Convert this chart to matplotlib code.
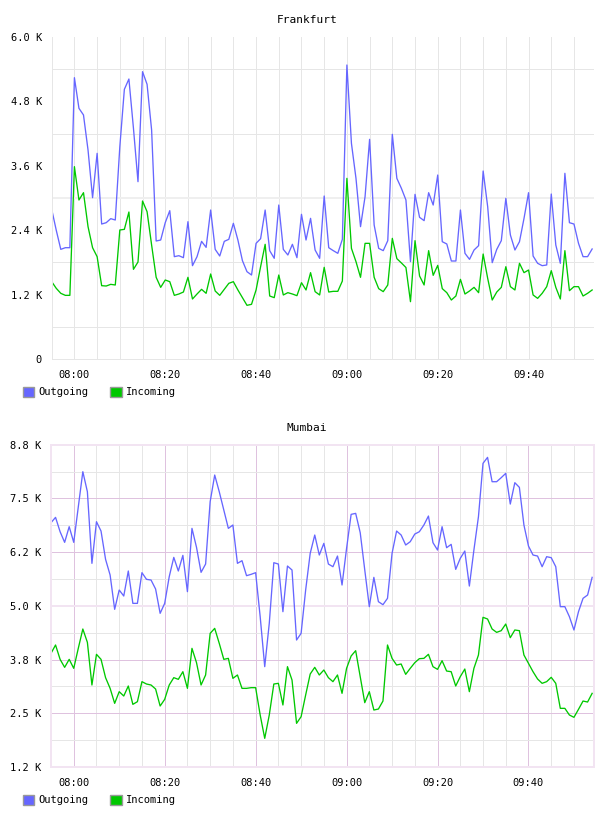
import numpy as np
import matplotlib
matplotlib.use("Agg")
import matplotlib.pyplot as plt
from matplotlib.patches import Patch

# one sample per minute, 07:55 .. 09:54 (minutes since midnight)
minutes = np.arange(475, 595)

tick_minutes = [480, 500, 520, 540, 560, 580]
tick_labels = ["08:00", "08:20", "08:40", "09:00", "09:20", "09:40"]

frankfurt_out = [
    2789, 2400, 2043, 2074, 2074, 5242, 4671, 4547, 3894, 3006,
    3832, 2515, 2540, 2615, 2590, 3956, 5025, 5217, 4300, 3304,
    5354, 5118, 4267, 2199, 2217, 2540, 2764, 1907, 1925, 1888,
    2559, 1739, 1907, 2192, 2080, 2776, 2043, 1919, 2192, 2230,
    2528, 2217, 1832, 1627, 1565, 2155, 2242, 2776, 2019, 1876,
    2869, 2043, 1938, 2137, 1888, 2696, 2217, 2621, 2031, 1876,
    3037, 2074, 2019, 1969, 2230, 5478, 4018, 3366, 2466, 3025,
    4093, 2497, 2062, 2019, 2205, 4186, 3366, 3180, 2963, 1814,
    3068, 2640, 2578, 3099, 2869, 3428, 2186, 2143, 1826, 1826,
    2776, 1969, 1857, 2031, 2112, 3503, 2838, 1795, 2043, 2205,
    2994, 2310, 2031, 2186, 2621, 3099, 1919, 1783, 1739, 1752,
    3074, 2124, 1783, 3460, 2540, 2515, 2155, 1907, 1907, 2050,
]
frankfurt_in = [
    1441, 1317, 1224, 1186, 1186, 3584, 2963, 3099, 2466, 2074,
    1907, 1366, 1360, 1391, 1379, 2404, 2416, 2739, 1671, 1807,
    2944, 2745, 2124, 1522, 1335, 1472, 1441, 1186, 1211, 1248,
    1522, 1118, 1211, 1298, 1224, 1584, 1267, 1186, 1298, 1410,
    1441, 1286, 1143, 1000, 1019, 1286, 1720, 2137, 1174, 1143,
    1565, 1193, 1236, 1211, 1180, 1422, 1286, 1609, 1255, 1193,
    1708, 1248, 1261, 1261, 1453, 3366, 2062, 1814, 1522, 2155,
    2155, 1522, 1311, 1255, 1379, 2248, 1870, 1790, 1705, 1068,
    2205, 1547, 1379, 2019, 1559, 1745, 1311, 1236, 1099, 1174,
    1484, 1211, 1267, 1335, 1236, 1956, 1503, 1099, 1248, 1335,
    1720, 1348, 1286, 1783, 1609, 1658, 1193, 1130, 1224, 1348,
    1646, 1335, 1118, 2019, 1273, 1348, 1348, 1174, 1224, 1286,
]
mumbai_out = [
    6935, 7059, 6725, 6478, 6842, 6478, 7300, 8122, 7656, 5989,
    6958, 6741, 6082, 5717, 4919, 5368, 5229, 5811, 5058, 5058,
    5772, 5617, 5601, 5392, 4826, 5058, 5679, 6128, 5811, 6175,
    5330, 6803, 6361, 5780, 5973, 7424, 8044, 7656, 7230, 6803,
    6881, 5989, 6051, 5702, 5733, 5772, 4748, 3585, 4593, 6004,
    5973, 4864, 5927, 5834, 4205, 4360, 5368, 6221, 6648, 6183,
    6454, 5973, 5911, 6159, 5485, 6338, 7129, 7152, 6702, 5834,
    4981, 5663, 5097, 5027, 5175, 6221, 6741, 6648, 6416, 6493,
    6671, 6725, 6881, 7090, 6470, 6299, 6842, 6353, 6431, 5849,
    6105, 6276, 5461, 6299, 7075, 8316, 8455, 7889, 7889, 7982,
    8083, 7369, 7866, 7757, 6881, 6392, 6183, 6159, 5911, 6144,
    6121, 5911, 4981, 4981, 4748, 4438, 4864, 5175, 5252, 5663,
]
mumbai_in = [
    3895, 4089, 3755, 3569, 3755, 3546, 4011, 4461, 4151, 3158,
    3872, 3755, 3329, 3080, 2731, 3003, 2902, 3135, 2708, 2770,
    3236, 3181, 3158, 3065, 2669, 2824, 3158, 3329, 3290, 3468,
    3080, 4011, 3678, 3158, 3391, 4360, 4476, 4127, 3755, 3778,
    3313, 3391, 3080, 3080, 3096, 3096, 2460, 1917, 2460, 3181,
    3197, 2693, 3585, 3274, 2266, 2421, 2925, 3414, 3569, 3391,
    3507, 3329, 3236, 3391, 2964, 3546, 3833, 3957, 3352, 2747,
    3003, 2576, 2599, 2785, 4089, 3778, 3623, 3647, 3406, 3546,
    3678, 3771, 3778, 3872, 3585, 3522, 3724, 3483, 3468, 3135,
    3352, 3530, 3003, 3546, 3856, 4733, 4694, 4461, 4383, 4422,
    4577, 4259, 4438, 4422, 3856, 3662, 3468, 3298, 3197, 3236,
    3337, 3197, 2615, 2615, 2460, 2406, 2592, 2785, 2762, 2964,
]

frankfurt_yticks = [0, 1200, 2400, 3600, 4800, 6000]
frankfurt_ylabels = ["0", "1.2 K", "2.4 K", "3.6 K", "4.8 K", "6.0 K"]
mumbai_yticks = [1250, 2500, 3750, 5000, 6250, 7500, 8750]
mumbai_ylabels = ["1.2 K", "2.5 K", "3.8 K", "5.0 K", "6.2 K", "7.5 K", "8.8 K"]

OUT_COLOR = "#6666ff"
IN_COLOR = "#00c800"
GRID_GRAY = "#e6e6e6"
GRID_PINK = "#dfc2df"
BORDER_PINK = "#f2e4f2"
MONO = "DejaVu Sans Mono"
PX = 0.72  # one pixel in points at 100 dpi

fig = plt.figure(figsize=(6.08, 8.16), dpi=100)
fig.set_facecolor("white")

ax1 = fig.add_axes([51.7 / 608, 1 - 359 / 816, (593.5 - 51.7) / 608, 322 / 816])
ax2 = fig.add_axes([51.0 / 608, 1 - 767 / 816, (593.5 - 51.0) / 608, 322.3 / 816])


def style_axes(ax, yticks, ylabels, ylim, minor_y, pink):
    ax.set_xlim(475, 594.3)
    ax.set_ylim(*ylim)
    ax.set_xticks(tick_minutes)
    ax.set_xticklabels(tick_labels, fontsize=7.5, family=MONO)
    ax.set_yticks(yticks)
    ax.set_yticklabels(ylabels, fontsize=7.5, family=MONO)
    ax.tick_params(length=0, pad=7)
    ax.tick_params(axis="x", pad=8)
    # five minute vertical grid
    for m in range(480 - 5, 595, 5):
        major = (m - 480) % 20 == 0
        col = GRID_PINK if (pink and major) else GRID_GRAY
        ax.axvline(m, color=col, lw=PX, zorder=0)
    for v in minor_y:
        ax.axhline(v, color=GRID_GRAY, lw=PX, zorder=0)
    if pink:
        for v in yticks:
            ax.axhline(v, color=GRID_PINK, lw=PX, zorder=0)
        ax.axhline(5000, color=BORDER_PINK, lw=2 * PX, zorder=0)
        for s in ax.spines.values():
            s.set_color(BORDER_PINK)
            s.set_linewidth(2 * PX)
    else:
        ax.axhline(3000, color="#efefef", lw=2 * PX, zorder=0)
        for s in ["top", "right"]:
            ax.spines[s].set_visible(False)
        for s in ["left", "bottom"]:
            ax.spines[s].set_color(GRID_GRAY)
            ax.spines[s].set_linewidth(PX)


style_axes(ax1, frankfurt_yticks, frankfurt_ylabels, (0, 6000),
           [600, 1800, 4200, 5400], pink=False)
style_axes(ax2, mumbai_yticks, mumbai_ylabels, (1250, 8750),
           [1875, 3125, 4375, 5625, 6875, 8125], pink=True)

ax1.plot(minutes, frankfurt_out, color=OUT_COLOR, lw=0.95)
ax1.plot(minutes, frankfurt_in, color=IN_COLOR, lw=0.95)
ax2.plot(minutes, mumbai_out, color=OUT_COLOR, lw=0.95)
ax2.plot(minutes, mumbai_in, color=IN_COLOR, lw=0.95)

fig.text(307 / 608, 1 - 20 / 816, "Frankfurt", ha="center", va="center",
         fontsize=8, family=MONO)
fig.text(307 / 608, 1 - 428 / 816, "Mumbai", ha="center", va="center",
         fontsize=8, family=MONO)

handles = [Patch(facecolor=OUT_COLOR, edgecolor="#999999", label="Outgoing"),
           Patch(facecolor=IN_COLOR, edgecolor="#999999", label="Incoming")]
for ypix in (392, 800):
    fig.legend(handles=handles, loc="center left",
               bbox_to_anchor=(23 / 608, 1 - ypix / 816), ncol=2, frameon=False,
               prop={"family": MONO, "size": 7.5}, handlelength=1.1,
               handleheight=1.1, handletextpad=0.4, columnspacing=2.1,
               borderaxespad=0, borderpad=0)

fig.savefig("out.png", dpi=100)
